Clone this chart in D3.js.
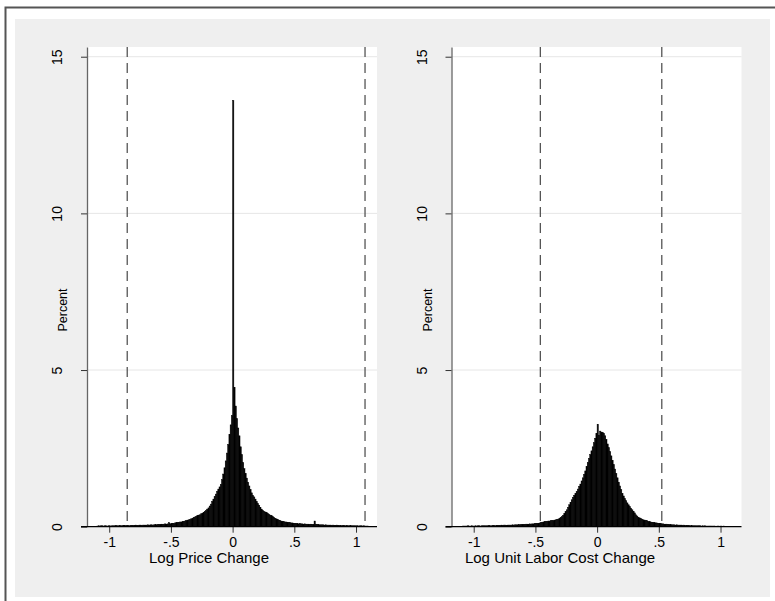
<!DOCTYPE html>
<html>
<head>
<meta charset="utf-8">
<script src="https://cdn.jsdelivr.net/npm/d3@7"></script>
<style>
body { margin: 0; background: #fff; }
svg text { font-family: "Liberation Sans", Arial, sans-serif; fill: #000; }
</style>
</head>
<body>
<svg id="chart" width="775" height="601"></svg>
<script>
// histogram bins: start at -1.10, width 0.01 (percent per bin)
var binStart = -1.10;
var binWidth = 0.01;

var priceChange = [
    0.02, 0.03, 0.02, 0.03, 0.03, 0.02, 0.03, 0.03, 0.02, 0.03,
    0.03, 0.02, 0.03, 0.03, 0.03, 0.04, 0.03, 0.03, 0.04, 0.03,
    0.03, 0.04, 0.04, 0.03, 0.04, 0.04, 0.03, 0.04, 0.04, 0.04,
    0.04, 0.05, 0.04, 0.04, 0.05, 0.05, 0.04, 0.05, 0.05, 0.05,
    0.05, 0.06, 0.05, 0.06, 0.06, 0.05, 0.06, 0.07, 0.06, 0.07,
    0.07, 0.07, 0.08, 0.07, 0.08, 0.09, 0.08, 0.09, 0.13, 0.09,
    0.10, 0.11, 0.10, 0.12, 0.13, 0.13, 0.14, 0.15, 0.15, 0.16,
    0.17, 0.18, 0.20, 0.21, 0.22, 0.23, 0.25, 0.27, 0.29, 0.31,
    0.33, 0.35, 0.37, 0.38, 0.41, 0.43, 0.46, 0.49, 0.52, 0.56,
    0.60, 0.66, 0.72, 0.80, 0.88, 0.96, 1.04, 1.12, 1.20, 1.27,
    1.35, 1.50, 1.68, 1.88, 2.10, 2.35, 2.62, 2.95, 3.25, 3.55,
    13.6,
    4.45, 3.85, 3.45, 3.15, 2.90, 2.55, 2.30, 2.05, 1.85, 1.70,
    1.55, 1.42, 1.30, 1.18, 1.08, 1.00, 0.95, 0.88, 0.80, 0.74,
    0.68, 0.62, 0.56, 0.52, 0.49, 0.47, 0.45, 0.42, 0.40, 0.37,
    0.35, 0.32, 0.30, 0.27, 0.25, 0.23, 0.21, 0.20, 0.18, 0.17,
    0.16, 0.15, 0.15, 0.14, 0.13, 0.13, 0.12, 0.12, 0.11, 0.11,
    0.10, 0.10, 0.09, 0.10, 0.09, 0.09, 0.08, 0.09, 0.08, 0.08,
    0.08, 0.07, 0.08, 0.07, 0.07, 0.18, 0.08, 0.07, 0.07, 0.06,
    0.06, 0.06, 0.06, 0.05, 0.06, 0.05, 0.05, 0.05, 0.05, 0.04,
    0.05, 0.04, 0.04, 0.05, 0.04, 0.04, 0.04, 0.03, 0.04, 0.04,
    0.03, 0.04, 0.03, 0.03, 0.04, 0.03, 0.03, 0.03, 0.03, 0.03,
    0.03, 0.02, 0.03, 0.03, 0.02, 0.03, 0.02, 0.02, 0.02
];

var laborCostChange = [
    0.01, 0.02, 0.02, 0.02, 0.02, 0.03, 0.02, 0.02, 0.03, 0.02,
    0.02, 0.03, 0.02, 0.03, 0.03, 0.02, 0.03, 0.03, 0.03, 0.03,
    0.03, 0.03, 0.04, 0.03, 0.03, 0.04, 0.04, 0.03, 0.04, 0.04,
    0.04, 0.04, 0.05, 0.04, 0.05, 0.05, 0.04, 0.05, 0.05, 0.05,
    0.05, 0.06, 0.05, 0.06, 0.06, 0.06, 0.07, 0.06, 0.07, 0.07,
    0.07, 0.07, 0.08, 0.08, 0.08, 0.09, 0.08, 0.09, 0.09, 0.10,
    0.10, 0.11, 0.11, 0.12, 0.13, 0.14, 0.15, 0.16, 0.16, 0.17,
    0.18, 0.18, 0.19, 0.19, 0.20, 0.21, 0.22, 0.23, 0.24, 0.26,
    0.29, 0.32, 0.36, 0.42, 0.48, 0.54, 0.62, 0.70, 0.78, 0.86,
    0.94, 1.00, 1.06, 1.12, 1.20, 1.28, 1.36, 1.46, 1.56, 1.66,
    1.78, 1.92, 2.05, 2.18, 2.30, 2.42, 2.55, 2.68, 2.82, 2.98,
    3.27,
    2.92, 3.05, 3.02, 3.00, 2.98, 2.90, 2.78, 2.64, 2.52, 2.40,
    2.26, 2.12, 1.98, 1.84, 1.70, 1.56, 1.42, 1.30, 1.18, 1.06,
    0.98, 0.90, 0.83, 0.76, 0.70, 0.64, 0.59, 0.54, 0.49, 0.44,
    0.38, 0.34, 0.30, 0.28, 0.26, 0.24, 0.22, 0.21, 0.20, 0.19,
    0.17, 0.16, 0.15, 0.14, 0.14, 0.13, 0.12, 0.12, 0.11, 0.11,
    0.10, 0.09, 0.09, 0.08, 0.08, 0.08, 0.07, 0.07, 0.07, 0.06,
    0.06, 0.06, 0.05, 0.06, 0.05, 0.05, 0.05, 0.05, 0.04, 0.05,
    0.04, 0.04, 0.04, 0.04, 0.03, 0.04, 0.03, 0.03, 0.03, 0.03,
    0.03, 0.03, 0.03, 0.02, 0.03, 0.02, 0.03, 0.02, 0.02, 0.02,
    0.02, 0.02, 0.02, 0.02, 0.02, 0.01, 0.02, 0.02, 0.01, 0.02,
    0.01, 0.02, 0.01, 0.01, 0.01, 0.01, 0.01, 0.01, 0.01
];

var priceCutoffs = [-0.854, 1.073];
var laborCutoffs = [-0.46, 0.524];
var xTicks = [-1, -0.5, 0, 0.5, 1];
var yTicks = [0, 5, 10, 15];

var svg = d3.select("#chart");

// outer frame
svg.append("rect")
    .attr("x", 15).attr("y", 19)
    .attr("width", 755).attr("height", 578)
    .attr("fill", "#efefef");
svg.append("path")
    .attr("d", "M5.5,601V7.5H775")
    .attr("fill", "none")
    .attr("stroke", "#555")
    .attr("stroke-width", 2);

function stataFormat(d) {
    if (d === 0) return "0";
    var s = String(Math.abs(d)).replace(/^0/, "");
    return (d < 0 ? "-" : "") + s;
}

function drawPanel(values, cutoffs, title, left, titleX) {
    var plotTop = 47, plotBottom = 526.7, plotW = 290;

    var xScale = d3.scaleLinear()
        .domain([-1.18, 1.17])
        .range([left, left + plotW]);
    var yScale = d3.scaleLinear()
        .domain([0, 15.31])
        .range([plotBottom, plotTop]);

    var g = svg.append("g");

    g.append("rect")
        .attr("x", left).attr("y", plotTop)
        .attr("width", plotW).attr("height", plotBottom - plotTop)
        .attr("fill", "#fff");

    // grid
    g.selectAll(".grid")
        .data(yTicks.filter(d => d > 0))
        .enter().append("line")
        .attr("x1", left).attr("x2", left + plotW)
        .attr("y1", d => yScale(d)).attr("y2", d => yScale(d))
        .attr("stroke", "#e6e6e6")
        .attr("stroke-width", 1);

    // bars (thin black outline like Stata's bar lines)
    var bins = values.map((v, i) => ({ x0: binStart + i * binWidth, v: v }));
    g.selectAll(".bar")
        .data(bins)
        .enter().append("rect")
        .attr("x", d => xScale(d.x0))
        .attr("width", d => xScale(d.x0 + binWidth) - xScale(d.x0))
        .attr("y", d => yScale(d.v))
        .attr("height", d => plotBottom - yScale(d.v))
        .attr("fill", "#000")
        .attr("stroke", "#000")
        .attr("stroke-width", 0.5);

    // cutoff lines
    g.selectAll(".cut")
        .data(cutoffs)
        .enter().append("line")
        .attr("x1", d => xScale(d)).attr("x2", d => xScale(d))
        .attr("y1", plotTop).attr("y2", plotBottom)
        .attr("stroke", "#555")
        .attr("stroke-width", 1.3)
        .attr("stroke-dasharray", "10,6");

    // y axis
    var ya = g.append("g")
        .attr("transform", `translate(${left},0)`)
        .call(d3.axisLeft(yScale).tickValues(yTicks).tickSize(6).tickSizeOuter(0).tickFormat(d3.format("d")));
    ya.select(".domain").attr("stroke", "#666").attr("stroke-width", 1.3);
    ya.selectAll(".tick line").attr("stroke", "#333");
    ya.selectAll(".tick text")
        .attr("x", 0).attr("dy", 0)
        .attr("transform", "translate(-25,0) rotate(-90)")
        .attr("text-anchor", "middle")
        .style("font-size", "14px");

    // x axis
    var xa = g.append("g")
        .attr("transform", `translate(0,${plotBottom})`)
        .call(d3.axisBottom(xScale).tickValues(xTicks).tickSize(6).tickFormat(stataFormat));
    xa.select(".domain").remove();
    xa.selectAll(".tick line").attr("stroke", "#333");
    xa.selectAll(".tick text")
        .attr("y", 10.5)
        .style("font-size", "14px");
    g.append("line")
        .attr("x1", left - 6).attr("x2", left + plotW)
        .attr("y1", plotBottom).attr("y2", plotBottom)
        .attr("stroke", "#000")
        .attr("stroke-width", 1.3);

    // titles
    g.append("text")
        .attr("x", titleX).attr("y", 563)
        .attr("text-anchor", "middle")
        .style("font-size", "15px")
        .text(title);
    g.append("text")
        .attr("transform", `translate(${left - 20},310) rotate(-90)`)
        .attr("text-anchor", "middle")
        .style("font-size", "12.5px")
        .text("Percent");
}

drawPanel(priceChange, priceCutoffs, "Log Price Change", 87, 209);
drawPanel(laborCostChange, laborCutoffs, "Log Unit Labor Cost Change", 451.5, 560);
</script>
</body>
</html>
